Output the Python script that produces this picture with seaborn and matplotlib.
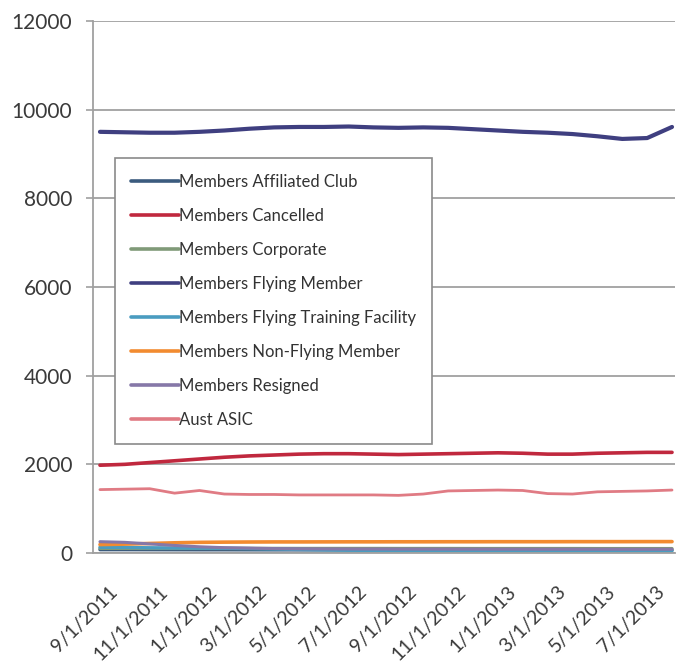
import numpy as np
import pandas as pd
import matplotlib
matplotlib.use("Agg")
import matplotlib.pyplot as plt
from matplotlib.transforms import ScaledTranslation
import seaborn as sns

# Monthly membership counts, Sep 2011 - Aug 2013
months = ["9/1/2011", "10/1/2011", "11/1/2011", "12/1/2011",
          "1/1/2012", "2/1/2012", "3/1/2012", "4/1/2012",
          "5/1/2012", "6/1/2012", "7/1/2012", "8/1/2012",
          "9/1/2012", "10/1/2012", "11/1/2012", "12/1/2012",
          "1/1/2013", "2/1/2013", "3/1/2013", "4/1/2013",
          "5/1/2013", "6/1/2013", "7/1/2013", "8/1/2013"]

affiliated_club = [75, 75, 74, 73, 72, 72, 71, 70, 70, 70, 69, 69,
                   68, 68, 68, 67, 67, 66, 66, 66, 65, 65, 65, 65]
cancelled = [1980, 2000, 2040, 2080, 2120, 2160, 2190, 2210, 2230, 2240, 2240, 2230,
             2220, 2230, 2240, 2250, 2260, 2250, 2230, 2230, 2250, 2260, 2270, 2270]
corporate = [105, 105, 104, 104, 104, 103, 103, 103, 102, 102, 102, 102,
             101, 101, 101, 100, 100, 100, 100, 100, 99, 99, 99, 99]
flying_member = [9500, 9490, 9480, 9480, 9500, 9530, 9570, 9600, 9610, 9610, 9620, 9600,
                 9590, 9600, 9590, 9560, 9530, 9500, 9480, 9450, 9400, 9340, 9360, 9610]
flying_training_facility = [130, 125, 118, 112, 110, 106, 100, 90, 80, 70, 62, 58,
                            55, 54, 53, 52, 52, 51, 51, 50, 50, 50, 50, 50]
non_flying_member = [190, 200, 215, 230, 240, 245, 248, 250, 250, 251, 252, 252,
                     253, 253, 254, 254, 255, 255, 255, 256, 256, 256, 257, 257]
resigned = [255, 240, 205, 170, 140, 120, 110, 100, 95, 92, 90, 90,
            88, 88, 87, 87, 86, 86, 85, 85, 85, 84, 84, 84]
aust_asic = [1430, 1440, 1450, 1350, 1410, 1330, 1320, 1320, 1310, 1310, 1310, 1310,
             1300, 1330, 1400, 1410, 1420, 1410, 1340, 1330, 1380, 1390, 1400, 1420]

series_names = ["Members Affiliated Club", "Members Cancelled", "Members Corporate",
                "Members Flying Member", "Members Flying Training Facility",
                "Members Non-Flying Member", "Members Resigned", "Aust ASIC"]
series_values = [affiliated_club, cancelled, corporate, flying_member,
                 flying_training_facility, non_flying_member, resigned, aust_asic]
series_colors = ["#3b5b7e", "#c0283e", "#809a78", "#3f3f80",
                 "#4a9cc0", "#f28b30", "#8678a8", "#e07b84"]
series_widths = [2.4, 2.6, 2.4, 3.0, 2.4, 2.6, 2.2, 2.0]

y_ticks = [0, 2000, 4000, 6000, 8000, 10000, 12000]

frames = []
for name, vals in zip(series_names, series_values):
    frames.append(pd.DataFrame({"pos": np.arange(len(months)), "month": months,
                                "value": vals, "series": name}))
data = pd.concat(frames, ignore_index=True)

sns.set_theme(style="white")
plt.rcParams["font.family"] = ["Lato", "DejaVu Sans"]

fig = plt.figure(figsize=(6.78, 6.62), dpi=100)
ax = fig.add_axes([93 / 678, 1 - 553 / 662, (675 - 93) / 678, (553 - 21) / 662])

for name, color, lw in zip(series_names, series_colors, series_widths):
    sns.lineplot(data=data[data["series"] == name], x="pos", y="value",
                 color=color, linewidth=lw, label=name, ax=ax,
                 solid_capstyle="round", solid_joinstyle="round")

ax.set_xlim(-0.28, len(months) - 1 + 0.12)
ax.set_ylim(0, 12000)
ax.set_yticks(y_ticks)
ax.set_yticklabels([str(v) for v in y_ticks])
ax.yaxis.grid(True, color="#a0a0a0", linewidth=1.3)
ax.xaxis.grid(False)
ax.set_axisbelow(True)
ax.set_xlabel("")
ax.set_ylabel("")

for side in ["top", "right"]:
    ax.spines[side].set_visible(False)
for side in ["left", "bottom"]:
    ax.spines[side].set_color("#a0a0a0")
    ax.spines[side].set_linewidth(1.3)

ax.tick_params(axis="y", left=True, length=5, width=1.2, color="#a0a0a0",
               pad=10, labelsize=15, labelcolor="#3a3a3a")

tick_pos = list(range(0, len(months), 2))
ax.set_xticks(tick_pos)
ax.set_xticklabels([months[i] for i in tick_pos], rotation=45, ha="right",
                   va="top", rotation_mode="anchor", fontsize=14, color="#3a3a3a")
ax.tick_params(axis="x", bottom=False, length=0, pad=0)
shift = ScaledTranslation(9 / 100, -30 / 100, fig.dpi_scale_trans)
for lbl in ax.get_xticklabels():
    lbl.set_transform(lbl.get_transform() + shift)

leg = ax.legend(loc="upper left", bbox_to_anchor=(22 / 582, 1 - 137 / 532, 317 / 582, 0),
                mode="expand", borderaxespad=0, fontsize=12, handlelength=2.87,
                handletextpad=0.0, labelspacing=1.08, borderpad=0.95,
                frameon=True, fancybox=False, framealpha=1.0)
leg.get_frame().set_edgecolor("#8a8a8a")
leg.get_frame().set_linewidth(1.2)
for txt in leg.get_texts():
    txt.set_color("#333333")
for h in leg.get_lines():
    h.set_linewidth(2.6)

fig.savefig("out.png", dpi=100, facecolor="white")
